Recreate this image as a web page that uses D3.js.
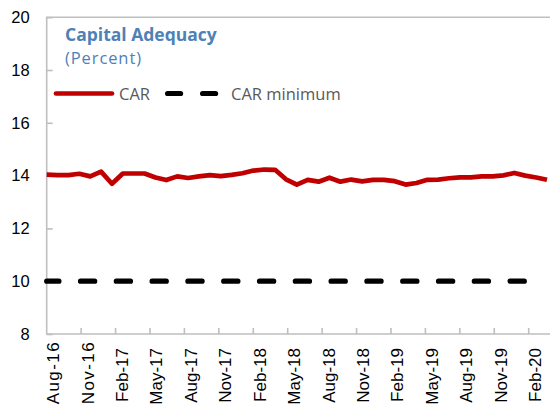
<!DOCTYPE html>
<html>
<head>
<meta charset="utf-8">
<script src="https://cdn.jsdelivr.net/npm/d3@7/dist/d3.min.js"></script>
<style>
  body { margin: 0; background: #fff; }
  svg { display: block; }
  .axis-line { stroke: #bfbfbf; stroke-width: 1.6; fill: none; }
</style>
</head>
<body>
<svg id="vis" width="550" height="412"></svg>
<script>
// CAR observations (47 points, first at Aug-16)
const car = [
  14.04, 14.02, 14.02, 14.07, 13.97, 14.15, 13.69, 14.08,
  14.08, 14.08, 13.93, 13.83, 13.97, 13.91, 13.97, 14.02,
  13.98, 14.03, 14.09, 14.19, 14.23, 14.22, 13.86, 13.66,
  13.84, 13.77, 13.92, 13.77, 13.85, 13.78, 13.84, 13.84,
  13.79, 13.66, 13.72, 13.84, 13.85, 13.90, 13.93, 13.93,
  13.97, 13.97, 14.01, 14.10, 14.00, 13.93, 13.84
];

// minimum requirement
const carMin = [
  10, 10, 10, 10, 10, 10, 10, 10, 10, 10, 10, 10, 10, 10, 10,
  10, 10, 10, 10, 10, 10, 10, 10, 10, 10, 10, 10, 10, 10, 10,
  10, 10, 10, 10, 10, 10, 10, 10, 10, 10, 10, 10, 10, 10, 10
];

const xTickLabels = [
  "Aug-16", "Nov-16", "Feb-17", "May-17", "Aug-17", "Nov-17", "Feb-18", "May-18",
  "Aug-18", "Nov-18", "Feb-19", "May-19", "Aug-19", "Nov-19", "Feb-20"
];
const yTicks = [8, 10, 12, 14, 16, 18, 20];

const svg = d3.select("svg#vis");

const plotLeft = 46.7, plotRight = 551, plotTop = 17.2, plotBottom = 334;

// series positions and quarterly date ticks
const xs = d3.scalePoint().domain(d3.range(car.length)).range([plotLeft, 547]);
const xt = d3.scalePoint().domain(xTickLabels).range([plotLeft, 528.7]);
const y = d3.scaleLinear().domain([8, 20]).range([plotBottom, plotTop]);

// frame
svg.append("path")
  .attr("class", "axis-line")
  .attr("d", `M${plotRight},${plotTop}H${plotLeft}V${plotBottom}H${plotRight}`);

// y axis (ticks point inward)
const yAxis = d3.axisLeft(y).tickValues(yTicks).tickSize(-6).tickSizeOuter(0).tickPadding(17);
const gy = svg.append("g").attr("transform", `translate(${plotLeft},0)`).call(yAxis);
gy.select(".domain").remove();
gy.selectAll(".tick line").attr("stroke", "#bfbfbf").attr("stroke-width", 1.6);
gy.selectAll(".tick text")
  .attr("font-family", "Liberation Sans, Arial, sans-serif")
  .attr("font-size", 16.5)
  .attr("fill", "#000");

// x ticks
const gx = svg.append("g");
gx.selectAll("line.xtick")
  .data(xTickLabels.slice(1))
  .enter()
  .append("line")
  .attr("class", "xtick")
  .attr("x1", d => xt(d))
  .attr("x2", d => xt(d))
  .attr("y1", plotBottom)
  .attr("y2", plotBottom - 6)
  .attr("stroke", "#bfbfbf")
  .attr("stroke-width", 1.6);

// the first two labels are spaced out a little wider in the original
gx.selectAll("text.xlabel")
  .data(xTickLabels)
  .enter()
  .append("text")
  .attr("class", "xlabel")
  .attr("transform", (d, i) => `translate(${xt(d) + 12.5},${i < 2 ? 341 : 348}) rotate(-90)`)
  .attr("text-anchor", "end")
  .attr("font-family", "Liberation Sans, Arial, sans-serif")
  .attr("font-size", 17)
  .attr("letter-spacing", (d, i) => i < 2 ? 1.4 : 0)
  .attr("fill", "#000")
  .text(d => d);

// series
const line = d3.line()
  .x((d, i) => xs(i))
  .y(d => y(d));

svg.append("path")
  .datum(carMin)
  .attr("d", line)
  .attr("fill", "none")
  .attr("stroke", "#000")
  .attr("stroke-width", 5.2)
  .attr("stroke-linecap", "round")
  .attr("stroke-dasharray", "14.2,21.6")
  .attr("stroke-dashoffset", 2);

svg.append("path")
  .datum(car)
  .attr("d", line)
  .attr("fill", "none")
  .attr("stroke", "#c00000")
  .attr("stroke-width", 4.7)
  .attr("stroke-linejoin", "round");

// title
const font = "Open Sans, Noto Sans, sans-serif";
svg.append("text")
  .attr("x", 65).attr("y", 41)
  .attr("font-family", font).attr("font-weight", "bold").attr("font-size", 17.5)
  .attr("fill", "#4e81b5")
  .text("Capital Adequacy");
svg.append("text")
  .attr("x", 65).attr("y", 63.5)
  .attr("font-family", font).attr("font-size", 16.5)
  .attr("letter-spacing", 0.9)
  .attr("fill", "#4e81b5")
  .text("(Percent)");

// legend
const lg = svg.append("g");
lg.append("line")
  .attr("x1", 56).attr("x2", 112).attr("y1", 93.5).attr("y2", 93.5)
  .attr("stroke", "#c00000").attr("stroke-width", 4.7).attr("stroke-linecap", "round");
lg.append("text")
  .attr("x", 119).attr("y", 100)
  .attr("font-family", font).attr("font-size", 16.5).attr("fill", "#595959")
  .text("CAR");
lg.append("line")
  .attr("x1", 167.6).attr("x2", 217).attr("y1", 93.5).attr("y2", 93.5)
  .attr("stroke", "#000").attr("stroke-width", 5.2).attr("stroke-linecap", "round")
  .attr("stroke-dasharray", "13,22");
lg.append("text")
  .attr("x", 231).attr("y", 100)
  .attr("font-family", font).attr("font-size", 16.5).attr("fill", "#595959")
  .text("CAR minimum");
</script>
</body>
</html>
